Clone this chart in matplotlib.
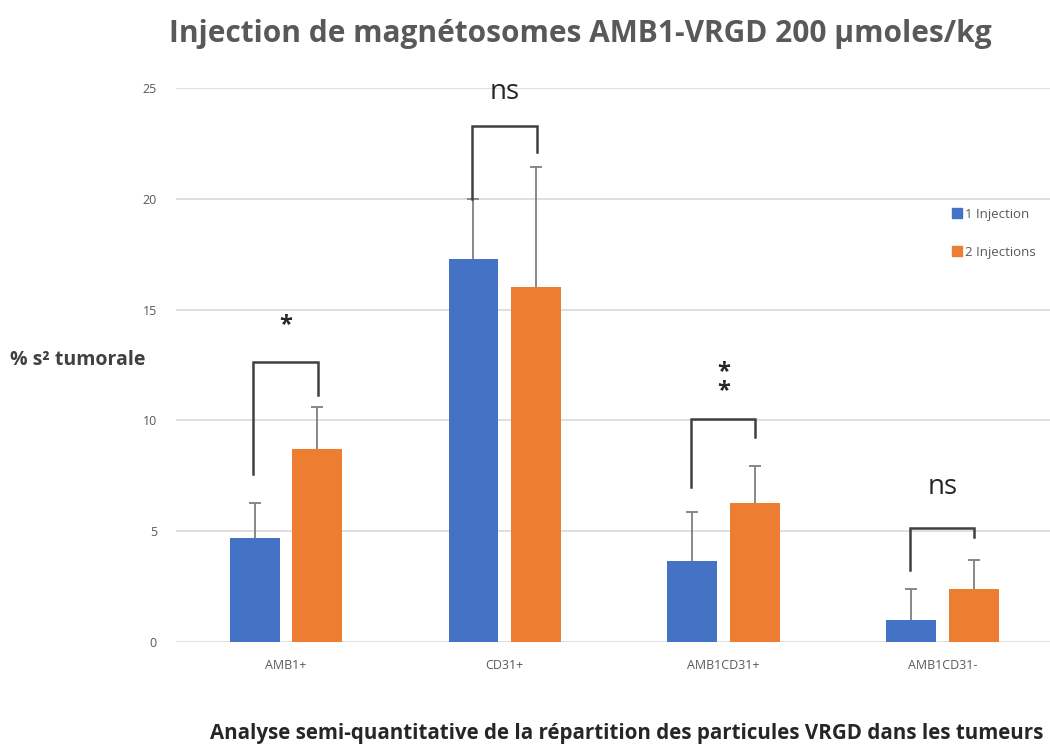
import numpy as np
import matplotlib
matplotlib.use("Agg")
import matplotlib.pyplot as plt
from matplotlib.lines import Line2D

# donnees
categories = ["AMB1+", "CD31+", "AMB1CD31+", "AMB1CD31-"]
une_inj = [4.7, 17.3, 3.65, 1.0]
une_inj_err = [1.6, 2.7, 2.2, 1.4]
deux_inj = [8.7, 16.0, 6.3, 2.4]
deux_inj_err = [1.9, 5.45, 1.65, 1.3]

# crochets de significativite: (gauche bas, haut, droite bas, texte, y texte)
crochets_gauche = [7.6, 20.0, 7.0, 3.25]
crochets_haut = [12.65, 23.3, 10.05, 5.15]
crochets_droite = [11.15, 22.1, 9.25, 4.75]
signif = ["*", "ns", "*\n*", "ns"]
signif_y = [14.3, 24.8, 11.75, 7.0]

bleu = "#4472C4"
orange = "#ED7D31"
gris = "#595959"

plt.rcParams['font.family'] = ['Open Sans', 'DejaVu Sans']

fig = plt.figure(figsize=(10.5, 7.45), dpi=100)
ax = fig.add_axes([0.168, 0.138, 0.834, 0.744])

x = np.arange(len(categories))
dx = 0.143
w = 0.228

ax.bar(x - dx, une_inj, w, color=bleu, zorder=3)
ax.bar(x + dx, deux_inj, w, color=orange, zorder=3)

# barres d'erreur seulement vers le haut
for xs, vals, errs in [(x - dx, une_inj, une_inj_err), (x + dx, deux_inj, deux_inj_err)]:
    hauts = np.array(vals) + np.array(errs)
    ax.vlines(xs, vals, hauts, color="#7f7f7f", lw=1.3, zorder=4)
    ax.plot(xs, hauts, ls="none", marker="_", markersize=9, mew=1.3,
            color="#7f7f7f", zorder=4)

for i in range(len(categories)):
    xl = x[i] - 0.15
    xr = x[i] + 0.145
    ax.plot([xl, xl, xr, xr],
            [crochets_gauche[i], crochets_haut[i], crochets_haut[i], crochets_droite[i]],
            color="#404040", lw=1.8, zorder=5, solid_joinstyle="miter")
    if signif[i] == "ns":
        ax.text(x[i], signif_y[i], "ns", ha="center", va="center", fontsize=20,
                color="#262626")
    else:
        ax.text(x[i], signif_y[i], signif[i], ha="center", va="center",
                fontsize=17, color="#262626", linespacing=0.75, fontweight="bold")

ax.set_xlim(-0.5, 3.5)
ax.set_ylim(0, 25)
ax.set_yticks([0, 5, 10, 15, 20, 25])
ax.set_xticks(x)
ax.set_xticklabels(categories)
ax.yaxis.grid(True, color="#d9d9d9", lw=1.2, zorder=0)
ax.set_axisbelow(True)
for s in ax.spines.values():
    s.set_visible(False)
ax.tick_params(axis="both", length=0, labelsize=9, labelcolor=gris)
ax.tick_params(axis="y", pad=14)
ax.tick_params(axis="x", pad=12)

handles = [Line2D([], [], marker="s", ls="none", color=bleu, markersize=7),
           Line2D([], [], marker="s", ls="none", color=orange, markersize=7)]
ax.legend(handles, ["1 Injection", "2 Injections"], loc="upper left",
          bbox_to_anchor=(0.87, 0.805), frameon=False, fontsize=9.5,
          labelcolor=gris, handletextpad=0.1, labelspacing=1.9, handlelength=1.0)

fig.text(0.553, 0.955, "Injection de magnétosomes AMB1-VRGD 200 µmoles/kg",
         ha="center", va="center", fontsize=21.5, fontweight="bold", color=gris)
fig.text(0.01, 0.517, "% s² tumorale", ha="left", va="center", fontsize=14,
         fontweight="bold", color="#404040")
fig.text(0.597, 0.016, "Analyse semi-quantitative de la répartition des particules VRGD dans les tumeurs",
         ha="center", va="center", fontsize=14.8, fontweight="bold", color="#262626")

fig.savefig("out.png", dpi=100)
